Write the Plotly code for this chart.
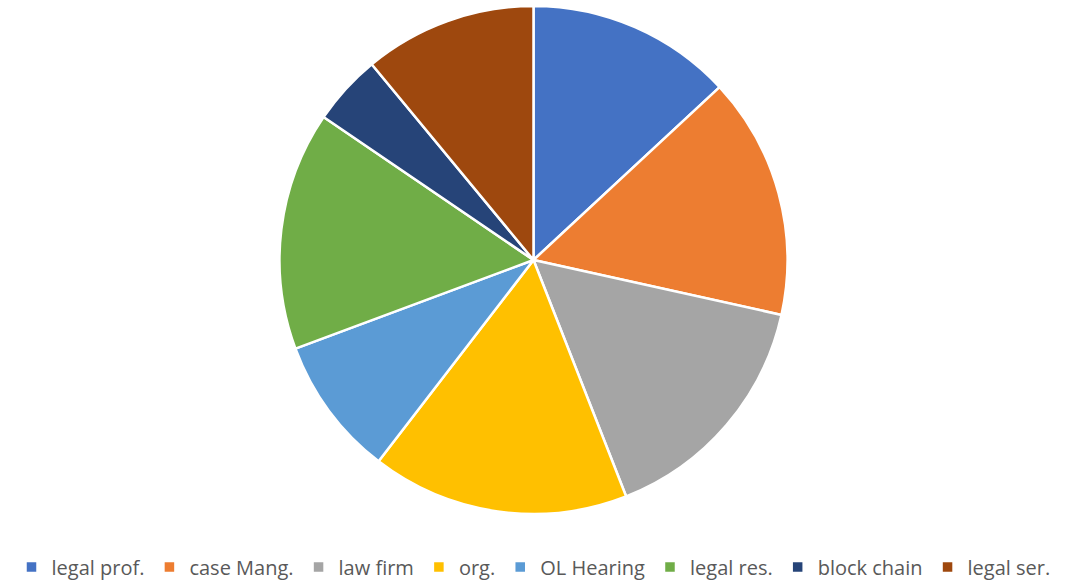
import plotly.graph_objects as go

labels = ["legal prof.", "case Mang.", "law firm", "org.", "OL Hearing", "legal res.", "block chain", "legal ser."]
values = [13.1, 15.4, 15.6, 16.4, 8.9, 15.2, 4.5, 11.0]
colors = ["#4472C4", "#ED7D31", "#A5A5A5", "#FFC000", "#5B9BD5", "#70AD47", "#264478", "#9E480E"]

W, H = 1067, 583

fig = go.Figure(go.Pie(
    labels=labels,
    values=values,
    sort=False,
    direction="clockwise",
    rotation=0,
    marker=dict(colors=colors, line=dict(color="white", width=2.5)),
    textinfo="none",
    hoverinfo="label+value",
    domain=dict(x=[0, 1], y=[1 - 514 / H, 1 - 6 / H]),
))

fig.update_layout(
    width=W, height=H,
    margin=dict(l=0, r=0, t=0, b=0, autoexpand=False),
    paper_bgcolor="white",
    plot_bgcolor="white",
    showlegend=True,
    legend=dict(
        orientation="h",
        x=0.5, xanchor="center",
        y=1 - 567 / H, yanchor="middle",
        font=dict(family="Open Sans, Liberation Sans, sans-serif", size=20, color="#595959"),
        itemwidth=30,
        traceorder="normal",
    ),
)

fig.write_html("out.html", config={"displayModeBar": False},
               post_script="document.body.style.margin='0';")
